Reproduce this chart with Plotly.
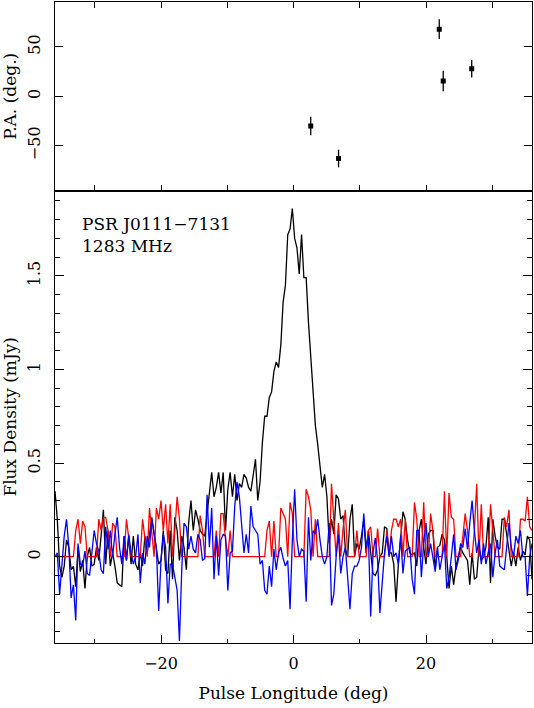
import numpy as np
import plotly.graph_objects as go
from plotly.subplots import make_subplots

# pulse longitude range shown (deg)
lon_min = -36.0
lon_max = 36.0

# total intensity (mJy), one value per phase bin
stokes_i = [
    0.35, 0.20, -0.05, -0.11, -0.05, 0.09, 0.05, -0.07, -0.05, -0.16,
    0.05, -0.08, -0.02, -0.17, 0.00, 0.05, -0.05, -0.04, 0.05, -0.02,
    0.11, 0.25, -0.04, 0.14, -0.05, 0.02, -0.05, -0.14, -0.15, -0.16,
    0.11, -0.02, 0.11, -0.04, 0.11, -0.04, -0.07, 0.02, -0.05, 0.11,
    0.02, 0.11, 0.21, 0.12, 0.05, -0.04, -0.02, 0.14, -0.07, -0.09,
    0.14, -0.12,
    0.21, 0.14, -0.02, 0.11, 0.05, -0.07, 0.18, 0.30, 0.14, 0.25,
    0.20, 0.14, 0.12, 0.11, 0.23, 0.34, 0.45, 0.32, 0.37, 0.45,
    0.34, 0.45, 0.14, 0.36, 0.45, 0.32, 0.44, 0.30, 0.39, 0.37,
    0.44, 0.42, 0.37, 0.35, 0.43, 0.52,
    0.30, 0.40, 0.61, 0.75, 0.75, 0.85, 0.88, 0.99, 1.04, 1.01,
    1.13, 1.36, 1.45, 1.72, 1.75, 1.86, 1.70, 1.65, 1.51, 1.72,
    1.49, 1.49, 1.25, 1.05, 0.85, 0.70, 0.60, 0.49, 0.37, 0.44,
    0.32,
    0.07, 0.20, 0.12, 0.33, 0.31, 0.20, 0.22, 0.04, 0.00, 0.20,
    0.28, 0.00, 0.07, 0.04, 0.11, 0.20, 0.02, 0.14, 0.02, -0.09,
    -0.10, -0.07, 0.00, 0.02, 0.16, 0.15, 0.02, 0.02, -0.04, -0.24,
    -0.04, 0.11, 0.24, 0.20, 0.09, 0.02, 0.01, 0.02,
    -0.05, 0.14, 0.20, 0.05, -0.04, 0.12, 0.14, 0.14, -0.07, 0.05,
    0.06, 0.12, 0.09, 0.00, -0.17, -0.05, -0.15, -0.05, 0.00, 0.05,
    0.02, 0.00, -0.02, -0.15, 0.02, -0.12, -0.11, 0.05, -0.02, 0.00,
    0.05, 0.21, -0.14, 0.20, 0.11, 0.05, 0.04, 0.20, 0.20, 0.12,
    0.02, -0.05, 0.02, -0.05, 0.05, -0.02, 0.03, 0.01, 0.11, 0.09,
    -0.12,
]

# linear polarisation (mJy)
stokes_l = [
    0, 0, 0, 0, 0, 0, 0, 0, 0,
    0.14, 0.20, 0.07, 0.19, 0.16,
    0, 0, 0, 0, 0,
    0.20, 0.14, 0.21, 0.21, 0.14,
    0,
    0.18, 0.16,
    0, 0, 0, 0,
    0.20, 0.10,
    0, 0, 0, 0, 0,
    0.20, 0.09,
    0,
    0.26, 0.14,
    0,
    0.26, 0.20, 0.30, 0.14, 0.28, 0.07, 0.28,
    0,
    0.14, 0.32, 0.20,
    0, 0, 0, 0, 0, 0, 0, 0,
    0.22, 0.14,
    0, 0, 0, 0, 0,
    0.14, 0, 0.23, 0.23, 0.09, 0, 0.14,
    0, 0, 0, 0, 0, 0, 0, 0, 0, 0, 0, 0, 0, 0, 0,
    0.14, 0.19, 0, 0.19, 0, 0, 0.26, 0.23, 0.20, 0, 0.29, 0.23,
    0, 0, 0, 0, 0,
    0.36, 0.32, 0.25, 0, 0.20,
    0, 0, 0, 0, 0, 0,
    0.39, 0.16, 0, 0.18, 0, 0.15, 0.25,
    0, 0, 0, 0,
    0.14, 0, 0, 0, 0, 0.14, 0.16, 0, 0, 0.15, 0, 0, 0, 0.14, 0,
    0.14, 0.20, 0.20, 0.16, 0.20, 0, 0.20, 0, 0, 0, 0.29,
    0.20, 0, 0, 0.29, 0, 0, 0.23, 0.14, 0, 0,
    0, 0, 0.35, 0, 0.34, 0.21, 0.20, 0, 0, 0,
    0.11, 0.23, 0.14, 0, 0, 0.14, 0.39, 0, 0.28, 0,
    0, 0, 0.28, 0.14, 0, 0, 0, 0, 0.21, 0.16,
    0.25, 0, 0, 0, 0, 0.20, 0.20, 0.19, 0.32, 0.16,
    0.14,
]

# circular polarisation (mJy)
stokes_v = [
    0.00, 0.02, -0.20, -0.06, 0.11, 0.20, 0.05, -0.22, -0.15, -0.34,
    0.07, -0.04, -0.05, 0.03, -0.09, -0.10, 0.02, 0.14, 0.07, 0.03,
    -0.07, -0.09, 0.16, 0.04, 0.14, 0.00, 0.12, 0.21, 0.05, -0.04,
    0.11, -0.02, 0.12, 0.02, -0.04, 0.00, 0.12, -0.14, 0.02, -0.04,
    0.11, 0.05, 0.20, 0.12, 0.05, -0.29, -0.02, 0.12, 0.05, -0.25,
    -0.04, -0.04, -0.11, -0.18,
    -0.45, -0.07, 0.18, 0.16, 0.04, 0.11, 0.04, 0.02, 0.12, 0.09,
    -0.02, -0.01, 0.33, 0.05, 0.26, -0.12, 0.11, -0.10, 0.09, 0.12,
    0.11, -0.18, 0.02, 0.03, 0.27, 0.40, 0.32, 0.16, 0.02, 0.12,
    0.02, 0.27, 0.16, 0.14, 0.12, -0.04, -0.02, -0.18, -0.20, -0.05,
    -0.16, 0.04, -0.07, 0.02, 0.05, -0.01, -0.05, -0.02, -0.28, 0.09,
    0.36,
    0.09, 0.00, 0.04, 0.03, -0.24, 0.21, -0.02, 0.14, 0.12, 0.20,
    0.09, 0.00, -0.04, 0.00, 0.18, -0.26, -0.20, 0.00, 0.12, -0.09,
    0.00, 0.05, -0.11, -0.28, -0.09, -0.05, -0.05, -0.02, 0.05, 0.23,
    0.05, 0.11, -0.32, 0.02, 0.10, -0.02, -0.30, -0.11, 0.02, 0.11,
    0.00, 0.11, 0.00, 0.02, -0.04, 0.11, -0.09, 0.03, 0.04, 0.05,
    -0.12, -0.20, 0.14,
    0.14, -0.11, 0.07, 0.18, 0.00, 0.07, 0.00, -0.08, 0.05, -0.07,
    0.00, 0.07, -0.17, -0.11, 0.00, 0.12, -0.07, -0.02, 0.07, 0.05,
    0.15, 0.04, 0.18, 0.30, 0.14, 0.02, 0.09, -0.04, 0.07, -0.04,
    0.02, 0.07, -0.11, 0.02, 0.09, -0.05, -0.06, -0.07, 0.05, 0.18,
    0.05, 0.00, 0.11, 0.07, 0.14, 0.00, 0.00, -0.21, 0.00, 0.07,
]

# position angle points
pa_lon = [2.6, 6.8, 22.0, 22.6, 26.9]
pa_deg = [-30.0, -63.0, 68.0, 15.5, 27.9]
pa_err = [9.3, 8.9, 10.0, 10.4, 8.9]

font = "DejaVu Serif"


def lon_grid(values):
    # bins are evenly spread across the displayed longitude window
    return np.linspace(lon_min, lon_max, len(values))


fig = make_subplots(
    rows=2, cols=1, row_heights=[0.2943, 0.7057], vertical_spacing=0
)

fig.add_trace(
    go.Scatter(
        x=pa_lon,
        y=pa_deg,
        mode="markers",
        marker=dict(symbol="square", size=5, color="black"),
        error_y=dict(type="data", array=pa_err, width=0, thickness=1.3, color="black"),
        showlegend=False,
    ),
    row=1,
    col=1,
)

for vals, col in [(stokes_i, "black"), (stokes_l, "#ff0000"), (stokes_v, "#0000ff")]:
    fig.add_trace(
        go.Scatter(
            x=lon_grid(vals),
            y=vals,
            mode="lines",
            line=dict(color=col, width=1.3),
            showlegend=False,
        ),
        row=2,
        col=1,
    )

axis_common = dict(
    automargin=False,
    showline=True,
    linecolor="black",
    linewidth=1.2,
    showgrid=False,
    zeroline=False,
    ticks="inside",
    tickcolor="black",
    tickwidth=1,
    tickfont=dict(family=font, size=16, color="black"),
)

# top panel: position angle
fig.update_xaxes(
    axis_common,
    range=[lon_min, lon_max],
    mirror="ticks",
    dtick=10,
    ticklen=6,
    showticklabels=False,
    row=1,
    col=1,
)
fig.update_yaxes(
    axis_common,
    range=[-95.5, 95.5],
    mirror="ticks",
    tickvals=[-50, 0, 50],
    ticktext=["\u221250", "0", "50"],
    ticklen=8,
    tickangle=-90,
    ticklabelstandoff=8,
    title=dict(text="P.A. (deg.)", font=dict(family=font, size=17, color="black"), standoff=8),
    row=1,
    col=1,
)

# bottom panel: flux density profile
fig.update_xaxes(
    axis_common,
    range=[lon_min, lon_max],
    mirror=True,
    tickvals=[-20, 0, 20],
    ticktext=["\u221220", "0", "20"],
    ticklen=8,
    minor=dict(dtick=10, ticks="inside", ticklen=4, tickcolor="black"),
    ticklabelstandoff=6,
    title=dict(text="Pulse Longitude (deg)", font=dict(family=font, size=17, color="black"), standoff=14),
    row=2,
    col=1,
)
fig.update_yaxes(
    axis_common,
    range=[-0.461, 1.955],
    mirror="ticks",
    tickvals=[0, 0.5, 1, 1.5],
    ticktext=["0", "0.5", "1", "1.5"],
    ticklen=9,
    minor=dict(dtick=0.1, ticks="inside", ticklen=5, tickcolor="black"),
    tickangle=-90,
    ticklabelstandoff=8,
    title=dict(text="Flux Density (mJy)", font=dict(family=font, size=17, color="black"), standoff=8),
    row=2,
    col=1,
)

fig.add_annotation(
    x=-32.2,
    y=1.84,
    xref="x2",
    yref="y2",
    text="PSR J0111\u22127131<br>1283 MHz",
    showarrow=False,
    xanchor="left",
    yanchor="top",
    align="left",
    font=dict(family=font, size=17, color="black"),
)

fig.update_layout(
    width=534,
    height=708,
    margin=dict(l=55, r=2, t=2, b=65),
    plot_bgcolor="white",
    paper_bgcolor="white",
    font=dict(family=font, color="black"),
)

# drop the browser's default page margin so the figure sits at the window corner
fig.write_html(
    "out.html",
    config={"displayModeBar": False},
    post_script="document.body.style.margin = '0px';",
)
